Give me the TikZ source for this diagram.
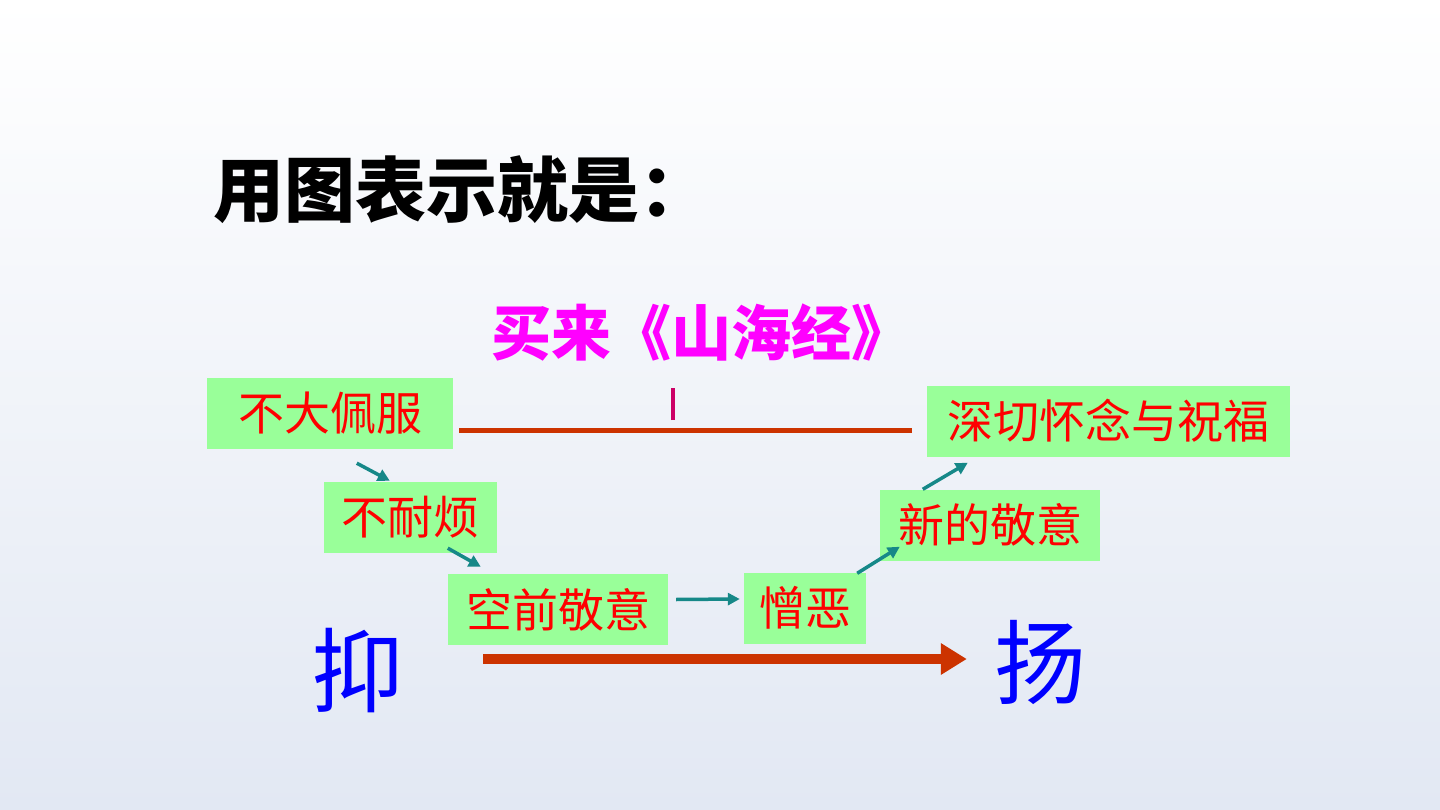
\documentclass[tikz,border=0pt]{standalone}
\usepackage{fontspec}
\newfontfamily\cjk{Noto Sans CJK SC}
\usetikzlibrary{arrows.meta}
\definecolor{boxgreen}{RGB}{153,255,153}
\definecolor{lineteal}{RGB}{22,136,136}
\definecolor{linered}{RGB}{204,51,0}
\definecolor{tickred}{RGB}{204,0,102}
\definecolor{bookpink}{RGB}{255,0,255}
\definecolor{bgblue}{RGB}{226,232,243}
\begin{document}
\begin{tikzpicture}[x=1pt,y=-1pt,
  stage/.style={fill=boxgreen, text=red, inner sep=0pt, minimum height=71pt,
    font=\cjk\fontsize{46}{50}\selectfont},
  turn/.style={draw=lineteal, line width=3.5pt, -{Triangle[length=12pt,width=12pt]}},
  side/.style={text=blue, inner sep=0pt, text height=0.8em, text depth=0.1em,
    font=\cjk\fontsize{92}{100}\selectfont}]
\shade[top color=white, bottom color=bgblue] (0,0) rectangle (1440,810);
\useasboundingbox (0,0) rectangle (1440,810);
\node[font=\cjk\bfseries\fontsize{71}{76}\selectfont] (title) at (462,190) {用图表示就是：};
\node[text=bookpink, font=\cjk\bfseries\fontsize{60}{66}\selectfont] (book) at (701,333) {买来《山海经》};
\node[stage, minimum width=246pt] (a) at (330,413.5) {不大佩服};
\node[stage, minimum width=173pt] (b) at (410.5,517.5) {不耐烦};
\node[stage, minimum width=220pt] (c) at (558,609.5) {空前敬意};
\node[stage, minimum width=122pt] (d) at (805,608) {憎恶};
\node[stage, minimum width=220pt] (e) at (990,525) {新的敬意};
\node[stage, minimum width=363pt] (f) at (1108.5,421) {深切怀念与祝福};
\node[side] (yi) at (357,702) {抑};
\node[side] (yang) at (1040,694) {扬};
\coordinate (tick) at (673,420);
\draw[linered, line width=5pt] ([shift={(6,16.5)}]a.east) -- ([shift={(-15,9)}]f.west);
\draw[tickred, line width=4pt] (tick) -- ++(0,-32);
\draw[turn] ([shift={(150,14)}]a.south west) -- ([shift={(66,-1)}]b.north west);
\draw[turn] ([shift={(124,-5)}]b.south west) -- ([shift={(33,-7)}]c.north west);
\draw[turn] ([shift={(8,-10)}]c.east) -- ([shift={(-4,-9)}]d.west);
\draw[turn] ([shift={(-9,1)}]d.north east) -- ([shift={(20,-14)}]e.south west);
\draw[turn] ([shift={(43,0)}]e.north west) -- ([shift={(41,6)}]f.south west);
\draw[linered, line width=10pt, -{Triangle[length=26pt,width=30pt]}]
  ([shift={(80,-43)}]yi.east) -- ([shift={(-27,-35)}]yang.west);
\end{tikzpicture}
\end{document}
